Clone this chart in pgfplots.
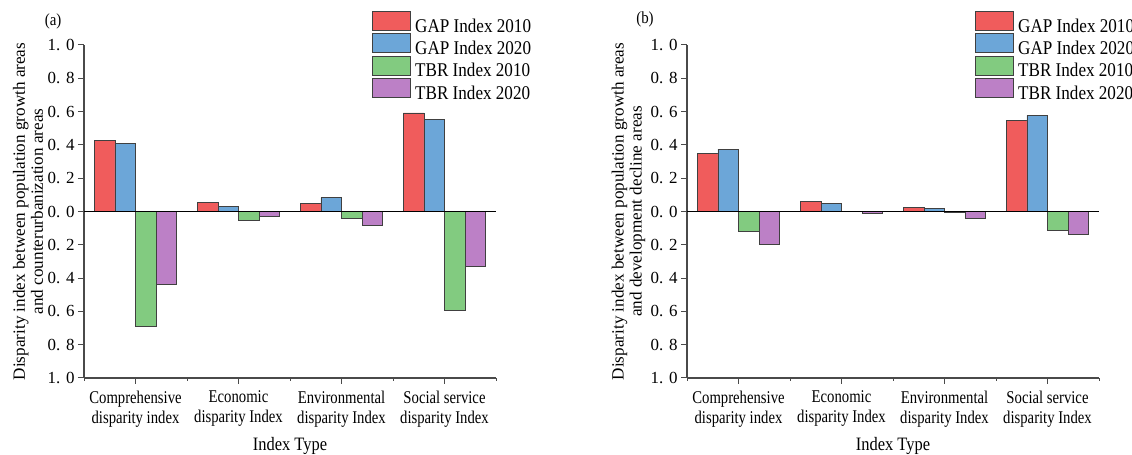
\documentclass[border=0pt]{standalone}
\usepackage{fontspec}
\setmainfont{Liberation Serif}
\newfontfamily\nfont{Liberation Serif}[FakeStretch=0.82]
\newfontfamily\lfont{Liberation Serif}[FakeStretch=0.88]
\newfontfamily\xfont{Liberation Serif}[FakeStretch=0.87]
\usepackage{pgfplots}
\pgfplotsset{compat=1.18}
\definecolor{cred}{HTML}{F05C5C}
\definecolor{cblue}{HTML}{6CA6D8}
\definecolor{cgreen}{HTML}{82CB80}
\definecolor{cpurple}{HTML}{BC80C6}
\definecolor{axisgray}{HTML}{4A4A4A}
\definecolor{bargray}{HTML}{404040}
\pgfplotsset{
  panel/.style={
    width=412bp, height=333bp, scale only axis,
    xmin=-0.5, xmax=3.5, ymin=-1, ymax=1,
    axis x line*=bottom, axis y line*=left,
    axis line style={draw=axisgray, line width=1.2bp, -},
    xtick={0,1,2,3},
    xticklabels={{Comprehensive\\disparity index},{Economic\\disparity Index},{Environmental\\disparity Index},{Social service\\disparity Index}},
    minor xtick={-0.5,0.5,1.5,2.5,3.5},
    ytick={-1,-0.8,-0.6,-0.4,-0.2,0,0.2,0.4,0.6,0.8,1},
    yticklabels={1. 0,0. 8,0. 6,0. 4,0. 2,0. 0,0. 2,0. 4,0. 6,0. 8,1. 0},
    tick align=outside,
    major tick length=6bp, minor tick length=3bp,
    every tick/.style={draw=axisgray, line width=1bp},
    xticklabel style={font=\nfont\fontsize{18}{20}\selectfont, align=center, yshift=-3.5bp},
    yticklabel style={font=\fontsize{17}{17}\selectfont},
    ybar=0pt, bar width=0.2,
    clip=false,
    legend image code/.code={\draw[#1] (0bp,-3.5bp) rectangle (37.5bp,15.5bp);},
    legend style={at={(0.700,1.102)}, anchor=north west, draw=none, fill=none,
      inner sep=0pt, outer sep=0pt, row sep=-4.3bp,
      font=\lfont\fontsize{19.5}{21}\selectfont,
      nodes={inner xsep=4.5bp, inner ysep=0pt, text height=16bp, text depth=5.3bp}},
    legend cell align=left,
    every axis plot/.append style={draw=bargray, line width=0.8bp},
    ylabel style={at={(axis description cs:-0.136,0.5)}, anchor=center, align=center,
      font=\fontsize{17.2}{18}\selectfont},
    xlabel={Index Type},
    xlabel style={at={(axis description cs:0.5,0)}, anchor=base, yshift=-72.5bp,
      font=\xfont\fontsize{19}{20}\selectfont},
    title style={anchor=center, yshift=0pt, font=\lfont\fontsize{17}{17}\selectfont},
  }
}
\begin{document}
\begin{tikzpicture}[x=1bp,y=1bp]
\useasboundingbox (0,0) rectangle (1132,455);
\begin{axis}[panel, at={(84bp,77bp)}, anchor=south west,
  title={(a)}, title style={at={(axis description cs:-0.075,1.052)}},
  ylabel={Disparity index between population growth areas\\and counterurbanization areas}]
\addplot[fill=cred] coordinates {(0,0.426) (1,0.056) (2,0.046) (3,0.592)};
\addplot[fill=cblue] coordinates {(0,0.408) (1,0.032) (2,0.083) (3,0.554)};
\addplot[fill=cgreen] coordinates {(0,-0.690) (1,-0.054) (2,-0.044) (3,-0.596)};
\addplot[fill=cpurple] coordinates {(0,-0.437) (1,-0.030) (2,-0.086) (3,-0.327)};
\legend{GAP Index 2010, GAP Index 2020, TBR Index 2010, TBR Index 2020}
\draw[black, line width=0.9bp] (axis cs:-0.5,0) -- (axis cs:3.5,0);
\end{axis}
\begin{axis}[panel, at={(687bp,77bp)}, anchor=south west,
  title={(b)}, title style={at={(axis description cs:-0.102,1.058)}},
  ylabel style={at={(axis description cs:-0.142,0.5)}},
  ylabel={Disparity index between population growth areas\\and development decline areas}]
\addplot[fill=cred] coordinates {(0,0.350) (1,0.060) (2,0.026) (3,0.546)};
\addplot[fill=cblue] coordinates {(0,0.374) (1,0.046) (2,0.018) (3,0.578)};
\addplot[fill=cgreen] coordinates {(0,-0.120) (1,-0.002) (2,-0.006) (3,-0.115)};
\addplot[fill=cpurple] coordinates {(0,-0.195) (1,-0.014) (2,-0.042) (3,-0.139)};
\legend{GAP Index 2010, GAP Index 2020, TBR Index 2010, TBR Index 2020}
\draw[black, line width=0.9bp] (axis cs:-0.5,0) -- (axis cs:3.5,0);
\end{axis}
\end{tikzpicture}
\end{document}
